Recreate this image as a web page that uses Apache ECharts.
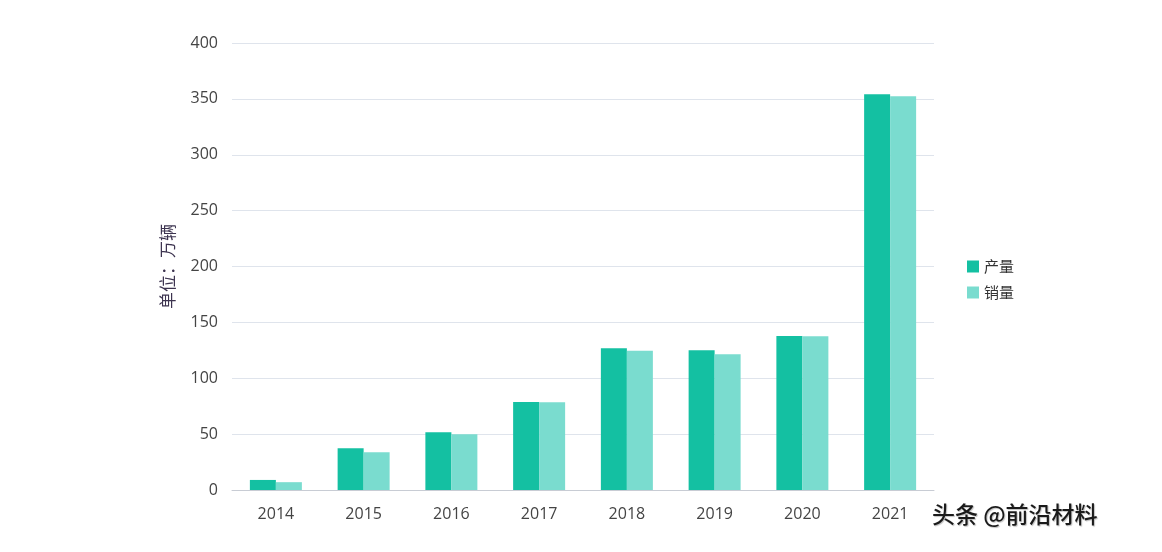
<!DOCTYPE html>
<html><head><meta charset="utf-8">
<script src="https://cdn.jsdelivr.net/npm/echarts@6/dist/echarts.min.js"></script>
<style>html,body{margin:0;padding:0;background:#fff}#c{width:1162px;height:552px}</style>
</head><body><div id="c"></div>
<script>
const years = ['2014','2015','2016','2017','2018','2019','2020','2021'];
const production = [9, 37.3, 51.6, 78.7, 126.8, 125, 137.8, 354.1];
const sales = [7, 33.7, 49.8, 78.5, 124.7, 121.4, 137.6, 352.3];
const seriesNames = ['产量', '销量'];
const yTicks = {min: 0, max: 400, interval: 50};

const chart = echarts.init(document.getElementById('c'));
chart.setOption({
  backgroundColor: '#fff',
  animation: false,
  grid: {left: 232, right: 228, top: 43, bottom: 62},
  legend: {
    orient: 'vertical', left: 962, top: 254, itemWidth: 12, itemHeight: 12, itemGap: 11,
    icon: 'rect',
    textStyle: {fontSize: 15, color: '#333', fontFamily: 'Noto Sans CJK SC'},
    data: seriesNames
  },
  xAxis: {
    type: 'category', data: years,
    axisLine: {lineStyle: {color: '#c8ccd4'}},
    axisTick: {show: false},
    axisLabel: {fontSize: 16, color: '#444', margin: 16, fontFamily: 'Open Sans'}
  },
  yAxis: {
    type: 'value', min: yTicks.min, max: yTicks.max, interval: yTicks.interval,
    name: '单位：万辆', nameLocation: 'middle', nameGap: 56, nameRotate: 90,
    nameTextStyle: {fontSize: 17, color: '#3d3450', fontFamily: 'Noto Sans CJK SC'},
    axisLine: {show: false}, axisTick: {show: false},
    axisLabel: {fontSize: 16, color: '#444', margin: 14, fontFamily: 'Open Sans'},
    splitLine: {lineStyle: {color: '#dfe4ec'}}
  },
  series: [
    {name: seriesNames[0], type: 'bar', data: production, barWidth: 26, barGap: '0%',
     itemStyle: {color: '#14c0a2'}},
    {name: seriesNames[1], type: 'bar', data: sales, barWidth: 26,
     itemStyle: {color: '#7adccf'}}
  ],
  graphic: [{
    type: 'text', left: 932, top: 503,
    style: {text: '头条 @前沿材料', fontSize: 23, fill: '#1a1a1a', fontFamily: 'Noto Sans CJK SC',
      fontWeight: 500, textShadowColor: 'rgba(0,0,0,0.25)', textShadowBlur: 1, textShadowOffsetX: 1, textShadowOffsetY: 1}
  }]
});
</script></body></html>
